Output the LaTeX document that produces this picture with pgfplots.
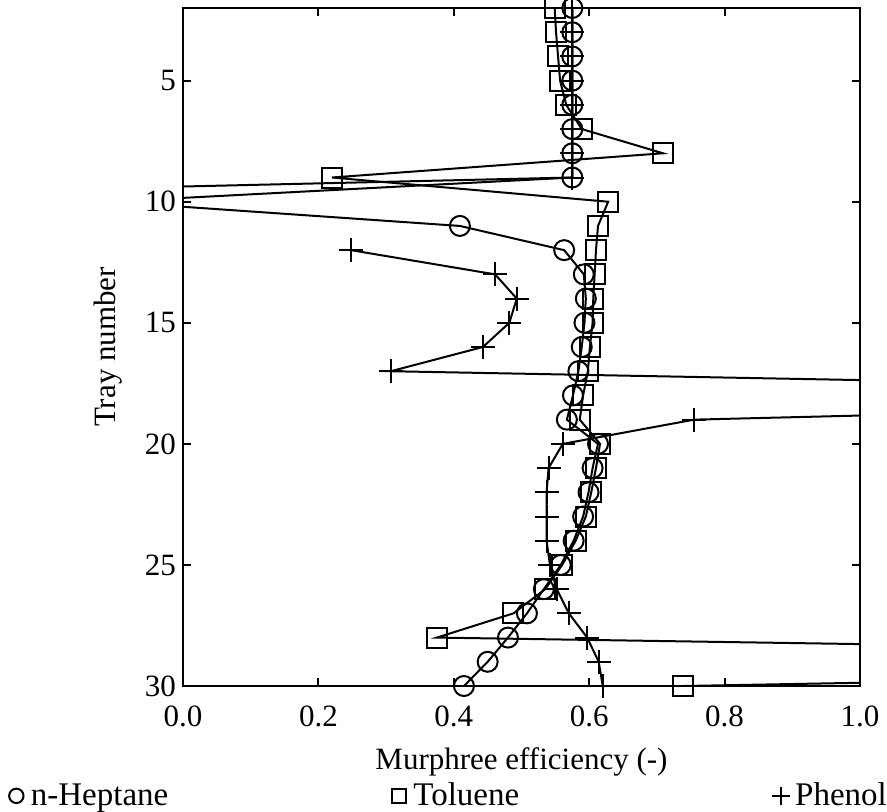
\documentclass[border=0pt]{standalone}
\usepackage{pgfplots}
\pgfplotsset{compat=1.18}
\usepackage{pgfplotstable}
\usepackage{fontspec}
\setmainfont{Liberation Serif}

\pgfplotstableread{
tray heptane toluene phenol
2  0.575 0.549 0.575
3  0.575 0.551 0.575
4  0.575 0.554 0.575
5  0.575 0.557 0.575
6  0.575 0.566 0.575
7  0.575 0.589 0.575
8  0.575 0.709 0.575
9  0.575 0.220 0.575
10 -0.108 0.628 -0.97
11 0.409 0.613 nan
12 0.563 0.610 0.248
13 0.592 0.608 0.461
14 0.595 0.606 0.493
15 0.593 0.605 0.482
16 0.589 0.601 0.443
17 0.584 0.598 0.307
18 0.576 0.591 2.2
19 0.567 0.586 0.755
20 0.613 0.616 0.561
21 0.605 0.610 0.540
22 0.599 0.603 0.537
23 0.591 0.595 0.537
24 0.577 0.580 0.537
25 0.558 0.560 0.542
26 0.533 0.535 0.552
27 0.508 0.488 0.570
28 0.480 0.375 0.597
29 0.450 2.7   0.614
30 0.415 0.739 0.620
}\datatable

\begin{document}
\begin{tikzpicture}
\useasboundingbox (-91.5pt,-63pt) rectangle (352pt,343pt);
\begin{axis}[
  at={(0,0)}, anchor=south west,
  scale only axis, width=338.5pt, height=339pt,
  xmin=0, xmax=1, ymin=2, ymax=30, y dir=reverse,
  xtick={0,0.2,0.4,0.6,0.8,1}, ytick={5,10,15,20,25,30},
  x tick label style={/pgf/number format/fixed, /pgf/number format/fixed zerofill, /pgf/number format/precision=1, yshift=-6.5pt},
  /pgf/number format/assume math mode=true,
  tick align=inside, major tick length=4pt,
  tick style={line width=1pt, black},
  axis line style={line width=1.2pt},
  every tick label/.append style={font=\fontsize{15.5}{18}\selectfont},
  label style={font=\fontsize{15.5}{18}\selectfont},
  xlabel={Murphree efficiency (-)},
  ylabel={Tray number},
  xlabel style={at={(axis description cs:0.5,-0.112)}, anchor=center},
  ylabel style={at={(axis description cs:-0.111,0.5)}, anchor=center},
  unbounded coords=jump,
  legend columns=3,
  legend style={draw=none, fill=none, font=\fontsize{16.5}{18}\selectfont,
    at={(axis description cs:-0.2607,-0.162)}, anchor=west,
    /tikz/column 2/.style={column sep=108.5pt},
    /tikz/column 4/.style={column sep=124pt},
    inner sep=0pt},
  legend image code/.code={\path (0cm,0cm) (0.32cm,0cm); \draw[#1] plot coordinates {(0.15cm,0cm)};},
  every axis plot/.append style={line width=1pt, black, mark options={line width=1pt, solid}},
]
\addplot[mark=o, mark size=5pt, forget plot] table[x=heptane, y=tray] {\datatable};
\addplot[mark=square, mark size=5pt, forget plot] table[x=toluene, y=tray] {\datatable};
\addplot[mark=+, mark size=6pt, forget plot] table[x=phenol, y=tray] {\datatable};
\addlegendimage{only marks, mark=o, mark size=3.6pt, line width=0.9pt}
\addlegendentry{n-Heptane}
\addlegendimage{only marks, mark=square, mark size=3.6pt, line width=0.9pt}
\addlegendentry{Toluene}
\addlegendimage{only marks, mark=+, mark size=4.5pt, line width=0.9pt}
\addlegendentry{Phenol}
\end{axis}
\end{tikzpicture}
\end{document}
